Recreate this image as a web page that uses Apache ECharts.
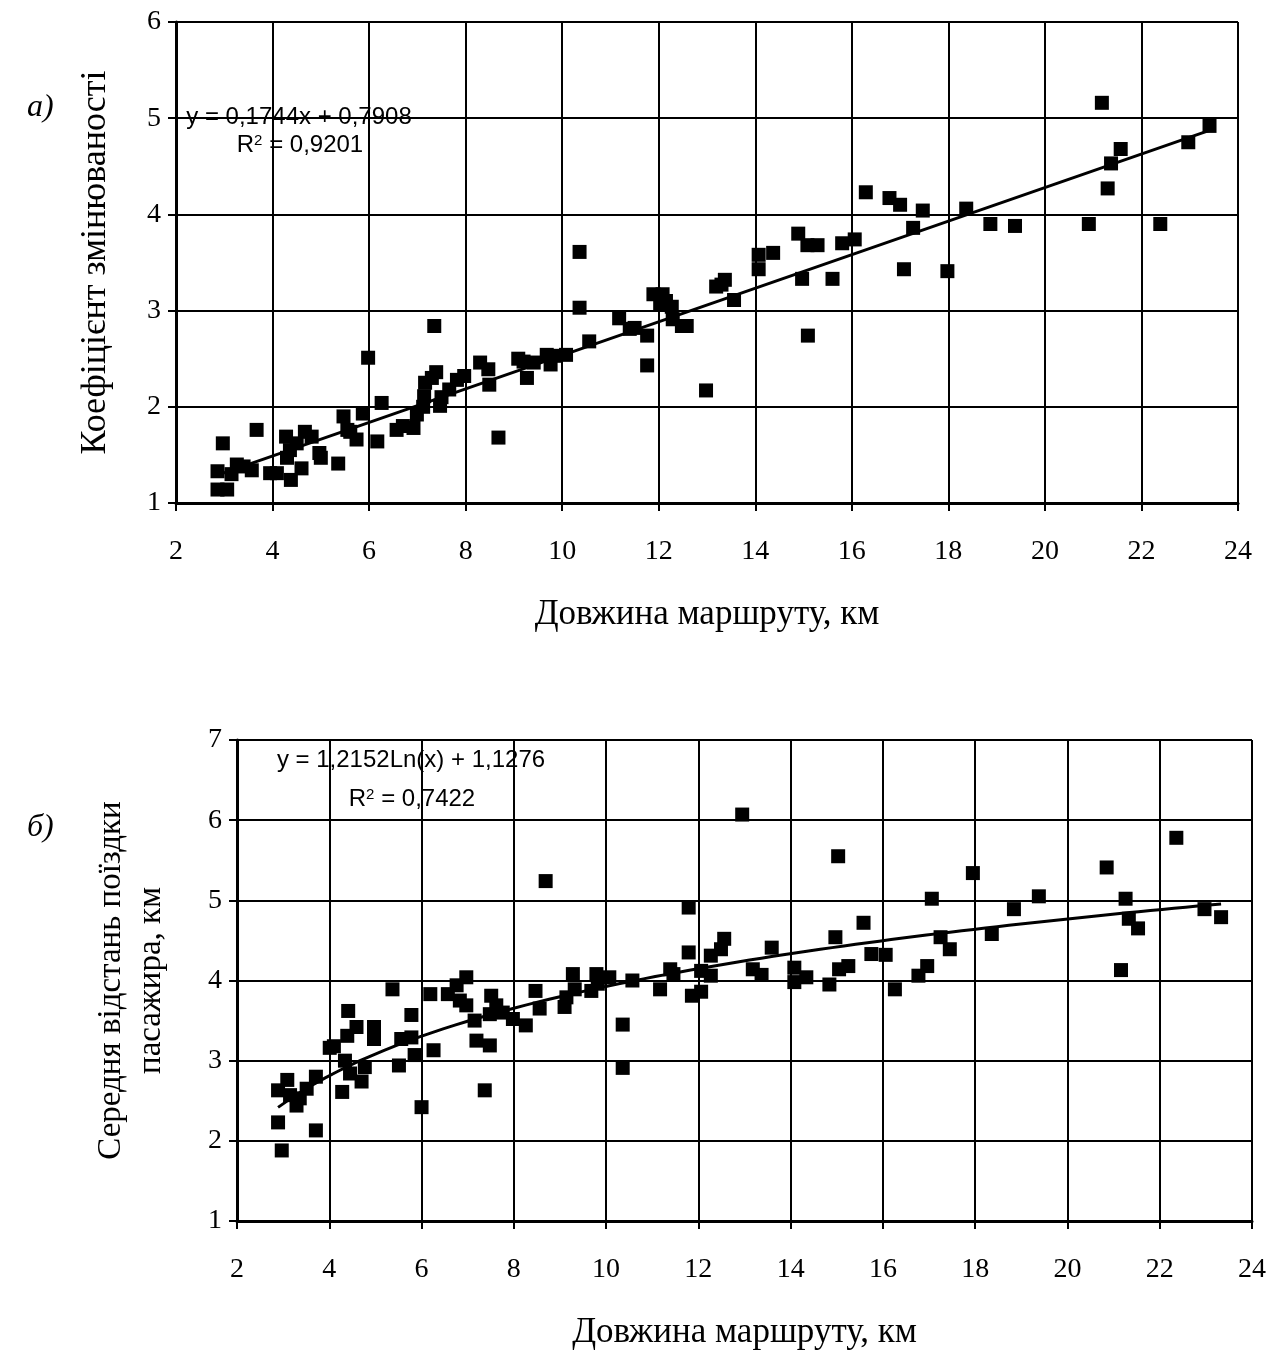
<!DOCTYPE html>
<html>
<head>
<meta charset="utf-8">
<script src="https://cdn.jsdelivr.net/npm/echarts@6/dist/echarts.min.js"></script>
<style>
  html, body { margin: 0; padding: 0; background: #fff; }
  #chart { width: 1270px; height: 1351px; }
</style>
</head>
<body>
<div id="chart"></div>
<script>
// а) route length (km) vs coefficient of variation
const topLength = [
  2.86, 2.86, 2.97, 3.06, 3.15, 3.26, 3.40, 3.57, 3.67, 3.95, 4.09, 4.28, 4.30, 4.36, 4.38,
  4.50, 4.60, 4.67, 4.81, 4.97, 5.00, 5.36, 5.47, 5.55, 5.61, 5.74, 5.87, 5.98, 6.17, 6.26,
  6.57, 6.70, 6.92, 6.99, 7.12, 7.14, 7.16, 7.30, 7.35, 7.39, 7.47, 7.50, 7.66, 7.82, 7.97,
  8.30, 8.47, 8.49, 8.68, 9.09, 9.20, 9.27, 9.41, 9.68, 9.76, 9.85, 10.08, 10.36, 10.36, 10.56,
  11.18, 11.40, 11.50, 11.76, 11.76, 11.89, 12.03, 12.08, 12.15, 12.27, 12.29, 12.48, 12.58, 12.98, 13.19,
  13.30, 13.37, 13.56, 14.07, 14.07, 14.37, 14.89, 14.97, 15.08, 15.09, 15.29, 15.60, 15.80, 16.06, 16.29,
  16.78, 17.00, 17.08, 17.27, 17.47, 17.98, 18.37, 18.87, 19.38, 20.91, 21.18, 21.30, 21.37, 21.57, 22.39,
  22.97, 23.41
];
const topCoef = [
  1.33, 1.14, 1.62, 1.14, 1.30, 1.40, 1.38, 1.34, 1.76, 1.31, 1.31, 1.69, 1.47, 1.55, 1.24,
  1.62, 1.36, 1.74, 1.69, 1.52, 1.47, 1.41, 1.90, 1.76, 1.74, 1.66, 1.93, 2.51, 1.64, 2.04,
  1.76, 1.80, 1.78, 1.92, 2.00, 2.11, 2.25, 2.30, 2.84, 2.36, 2.01, 2.10, 2.18, 2.28, 2.32,
  2.46, 2.39, 2.23, 1.68, 2.50, 2.47, 2.30, 2.46, 2.54, 2.44, 2.53, 2.54, 3.61, 3.03, 2.68,
  2.92, 2.81, 2.82, 2.74, 2.43, 3.17, 3.06, 3.17, 3.10, 3.04, 2.91, 2.84, 2.84, 2.17, 3.25,
  3.27, 3.32, 3.11, 3.58, 3.43, 3.60, 3.80, 3.33, 3.68, 2.74, 3.68, 3.33, 3.70, 3.74, 4.23,
  4.17, 4.10, 3.43, 3.86, 4.04, 3.41, 4.06, 3.90, 3.88, 3.90, 5.16, 4.27, 4.53, 4.68, 3.90,
  4.75, 4.92
];

// б) route length (km) vs mean passenger trip distance (km)
const botLength = [
  2.89, 2.89, 2.97, 3.09, 3.15, 3.29, 3.36, 3.51, 3.71, 3.71, 4.01, 4.10, 4.28, 4.34, 4.39,
  4.41, 4.45, 4.59, 4.70, 4.77, 4.97, 4.97, 5.37, 5.51, 5.56, 5.78, 5.78, 5.85, 6.00, 6.19,
  6.26, 6.57, 6.76, 6.83, 6.97, 6.97, 7.15, 7.19, 7.37, 7.48, 7.48, 7.51, 7.62, 7.76, 7.98,
  8.26, 8.47, 8.56, 8.69, 9.10, 9.14, 9.28, 9.32, 9.68, 9.79, 9.82, 10.07, 10.36, 10.36, 10.57,
  11.17, 11.39, 11.46, 11.79, 11.79, 11.86, 12.06, 12.06, 12.27, 12.27, 12.49, 12.56, 12.95, 13.18, 13.37,
  13.59, 14.08, 14.08, 14.34, 14.84, 14.97, 15.03, 15.05, 15.25, 15.58, 15.75, 16.06, 16.26, 16.77, 16.96,
  17.06, 17.25, 17.45, 17.95, 18.36, 18.84, 19.38, 20.85, 21.16, 21.26, 21.33, 21.53, 22.36, 22.97, 23.33
];
const botDist = [
  2.63, 2.23, 1.88, 2.76, 2.57, 2.44, 2.53, 2.65, 2.80, 2.13, 3.16, 3.18, 2.61, 3.00, 3.31,
  3.62, 2.84, 3.42, 2.74, 2.92, 3.42, 3.27, 3.89, 2.94, 3.27, 3.57, 3.29, 3.07, 2.42, 3.83,
  3.13, 3.83, 3.94, 3.75, 4.04, 3.69, 3.50, 3.25, 2.63, 3.19, 3.58, 3.81, 3.69, 3.60, 3.52,
  3.44, 3.87, 3.65, 5.24, 3.67, 3.79, 4.08, 3.89, 3.87, 4.08, 3.96, 4.04, 3.45, 2.91, 4.00,
  3.89, 4.14, 4.08, 4.91, 4.35, 3.81, 3.86, 4.12, 4.31, 4.06, 4.39, 4.52, 6.07, 4.14, 4.07,
  4.41, 4.16, 3.98, 4.04, 3.95, 4.54, 5.55, 4.14, 4.18, 4.72, 4.33, 4.32, 3.89, 4.06, 4.18,
  5.02, 4.54, 4.39, 5.34, 4.58, 4.89, 5.05, 5.41, 4.13, 5.02, 4.77, 4.65, 5.78, 4.89, 4.79
];

// Fitted trend lines (coefficients as printed on the charts)
const linSlope = 0.1744, linIntercept = 0.7908;
const logCoef = 1.2152, logConst = 1.1276;

const topPoints = topLength.map((x, i) => [x, topCoef[i]]);
const botPoints = botLength.map((x, i) => [x, botDist[i]]);

const topXs = [Math.min(...topLength), Math.max(...topLength)];
const linTrend = topXs.map(x => [x, linSlope * x + linIntercept]);

const logTrend = [];
const bMin = Math.min(...botLength), bMax = Math.max(...botLength);
for (let k = 0; k <= 80; k++) {
  const x = bMin + (bMax - bMin) * k / 80;
  logTrend.push([x, logCoef * Math.log(x) + logConst]);
}

const SERIF = '"Liberation Serif", "Times New Roman", serif';
const SANS = '"Liberation Sans", Arial, sans-serif';

function xAxisCfg(gridIndex) {
  return {
    type: 'value', gridIndex, min: 2, max: 24, interval: 2,
    name: 'Довжина маршруту, км', nameLocation: 'middle', nameGap: 94,
    nameTextStyle: { fontFamily: SERIF, fontSize: 35, color: '#000' },
    axisLine: { show: true, onZero: false, lineStyle: { color: '#000', width: 3 } },
    axisTick: { show: true, length: 8, lineStyle: { color: '#000', width: 2 } },
    axisLabel: { fontFamily: SERIF, fontSize: 28, color: '#000', margin: 35 },
    splitLine: { show: true, lineStyle: { color: '#000', width: 2 } }
  };
}

function yAxisCfg(gridIndex, max, name, gap, size) {
  return {
    type: 'value', gridIndex, min: 1, max, interval: 1,
    name, nameLocation: 'middle', nameGap: gap, nameRotate: 90,
    nameTextStyle: { fontFamily: SERIF, fontSize: size, color: '#000', lineHeight: 40 },
    axisLine: { show: true, onZero: false, lineStyle: { color: '#000', width: 3 } },
    axisTick: { show: true, length: 8, lineStyle: { color: '#000', width: 2 } },
    axisLabel: { fontFamily: SERIF, fontSize: 28, color: '#000', margin: 15 },
    splitLine: { show: true, lineStyle: { color: '#000', width: 2 } }
  };
}

const dotStyle = { color: '#000', opacity: 1 };

const chart = echarts.init(document.getElementById('chart'), null, { renderer: 'canvas' });
chart.setOption({
  animation: false,
  backgroundColor: '#fff',
  grid: [
    { left: 176, right: 32, top: 22, height: 481 },
    { left: 237, right: 18, top: 740, height: 483 }
  ],
  xAxis: [xAxisCfg(0), xAxisCfg(1)],
  yAxis: [
    yAxisCfg(0, 6, 'Коефіцієнт змінюваності', 60, 36),
    yAxisCfg(1, 7, 'Середня відстань поїздки\nпасажира, км', 66, 33)
  ],
  series: [
    {
      type: 'scatter', xAxisIndex: 0, yAxisIndex: 0, data: topPoints,
      symbol: 'rect', symbolSize: 14, itemStyle: dotStyle, z: 3
    },
    {
      type: 'line', xAxisIndex: 0, yAxisIndex: 0, data: linTrend,
      showSymbol: false, lineStyle: { color: '#000', width: 3 }, z: 4
    },
    {
      type: 'scatter', xAxisIndex: 1, yAxisIndex: 1, data: botPoints,
      symbol: 'rect', symbolSize: 14, itemStyle: dotStyle, z: 3
    },
    {
      type: 'line', xAxisIndex: 1, yAxisIndex: 1, data: logTrend, smooth: false,
      showSymbol: false, lineStyle: { color: '#000', width: 3 }, z: 4
    }
  ],
  graphic: [
    { type: 'text', left: 27, top: 92, style: { text: 'а)', font: 'italic 32px ' + SERIF, fill: '#000' } },
    { type: 'text', left: 27, top: 812, style: { text: 'б)', font: 'italic 32px ' + SERIF, fill: '#000' } },
    { type: 'text', x: 299, y: 117, z: 10, style: { text: 'y = 0,1744x + 0,7908', font: '24px ' + SANS, fill: '#000', align: 'center', verticalAlign: 'middle' } },
    { type: 'text', x: 300, y: 145, z: 10, style: {
        text: '{r|R}{s|2}{r| = 0,9201}', align: 'center', verticalAlign: 'middle',
        rich: { r: { font: '24px ' + SANS, fill: '#000' }, s: { font: '15px ' + SANS, fill: '#000', verticalAlign: 'top' } } } },
    { type: 'text', x: 411, y: 760, z: 10, style: { text: 'y = 1,2152Ln(x) + 1,1276', font: '24px ' + SANS, fill: '#000', align: 'center', verticalAlign: 'middle' } },
    { type: 'text', x: 412, y: 799, z: 10, style: {
        text: '{r|R}{s|2}{r| = 0,7422}', align: 'center', verticalAlign: 'middle',
        rich: { r: { font: '24px ' + SANS, fill: '#000' }, s: { font: '15px ' + SANS, fill: '#000', verticalAlign: 'top' } } } }
  ]
});
</script>
</body>
</html>
